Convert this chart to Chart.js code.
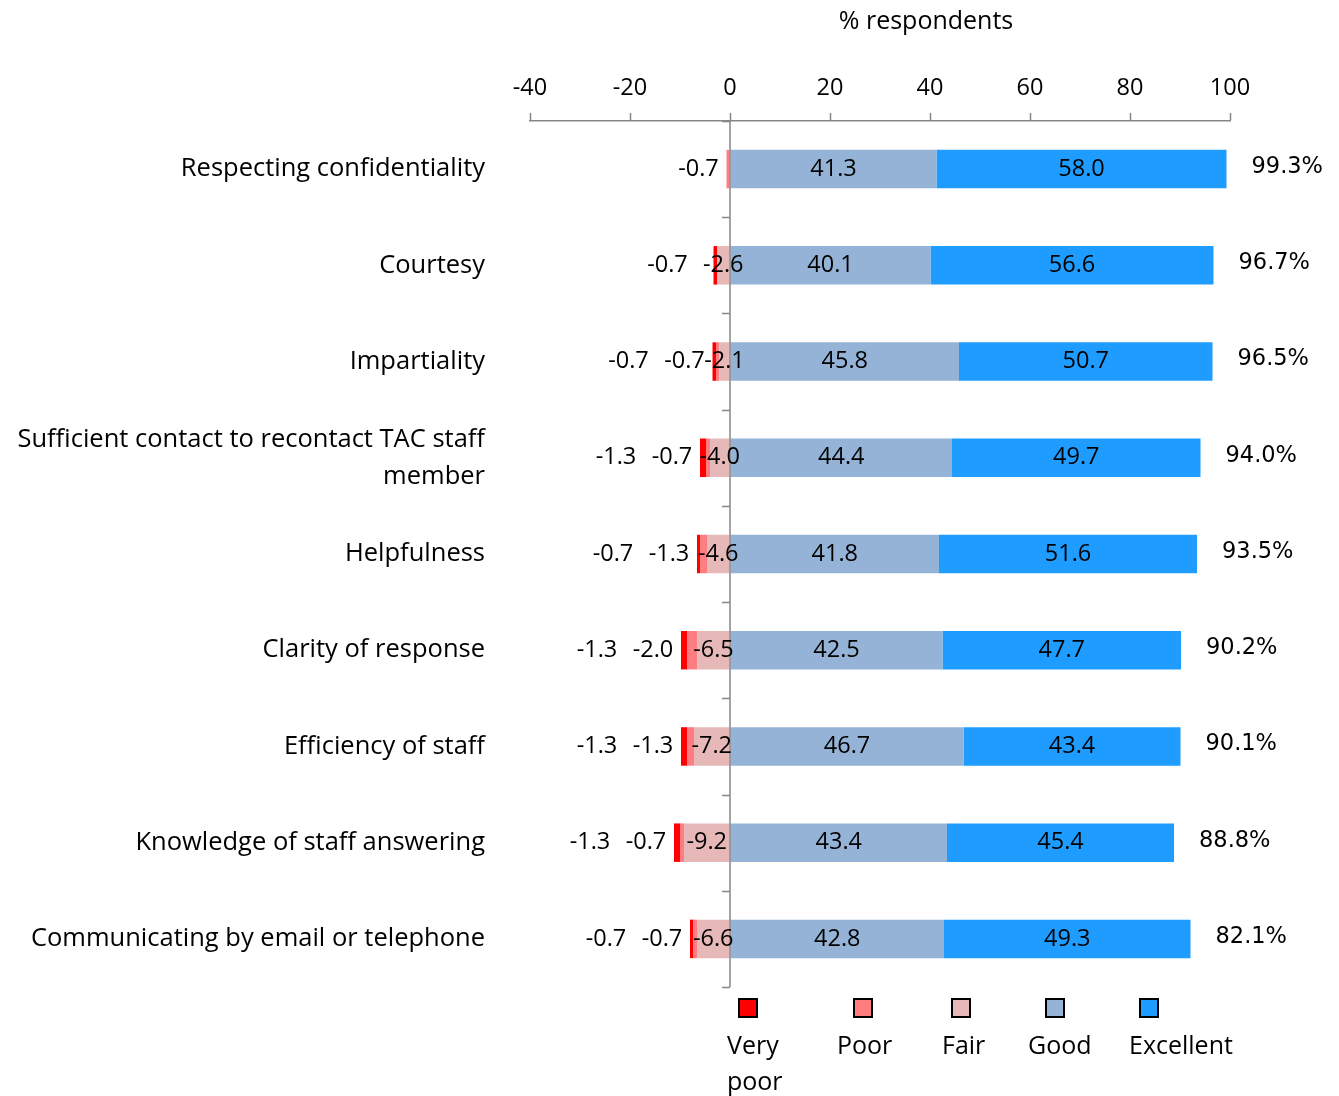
<!DOCTYPE html>
<html>
<head>
<meta charset="utf-8">
<script src="https://cdn.jsdelivr.net/npm/chart.js@4.4.1/dist/chart.umd.min.js"></script>
<style>
  html, body { margin: 0; padding: 0; background: #fff; }
  #wrap { width: 1339px; height: 1096px; }
</style>
</head>
<body>
<div id="wrap"><canvas id="grafico" width="1339" height="1096"></canvas></div>
<script>
// Satisfaction with TAC staff -- diverging stacked bars (negatives to the left)
var CATEGORIAS = [
  "Respecting confidentiality",
  "Courtesy",
  "Impartiality",
  ["Sufficient contact to recontact TAC staff", "member"],
  "Helpfulness",
  "Clarity of response",
  "Efficiency of staff",
  "Knowledge of staff answering",
  "Communicating by email or telephone",
];
var VERY_POOR = [0, -0.7, -0.7, -1.3, -0.7, -1.3, -1.3, -1.3, -0.7];
var POOR = [-0.7, 0, -0.7, -0.7, -1.3, -2.0, -1.3, -0.7, -0.7];
var FAIR = [0, -2.6, -2.1, -4.0, -4.6, -6.5, -7.2, -9.2, -6.6];
var GOOD = [41.3, 40.1, 45.8, 44.4, 41.8, 42.5, 46.7, 43.4, 42.8];
var EXCELLENT = [58.0, 56.6, 50.7, 49.7, 51.6, 47.7, 43.4, 45.4, 49.3];
var TOTAIS = ["99.3%", "96.7%", "96.5%", "94.0%", "93.5%", "90.2%", "90.1%", "88.8%", "82.1%"];
var X_TICKS = [-40, -20, 0, 20, 40, 60, 80, 100];
var LEGENDA = ["Very poor", "Poor", "Fair", "Good", "Excellent"];

var CORES = {
  "Very poor": "#ff0000",
  "Poor": "#ff7c80",
  "Fair": "#e6b9b8",
  "Good": "#95b3d7",
  "Excellent": "#1f9cff",
};
var FONTE = "'Open Sans', Lato, sans-serif";
var EIXO = "#868686";

function fmt(v) {
  return v.toFixed(1);
}

function centro(el) {
  var p = el.getProps(["x", "base", "y"], true);
  return { x: (p.x + p.base) / 2, y: p.y, esq: Math.min(p.x, p.base), dir: Math.max(p.x, p.base) };
}

// rótulos, linha do zero, título e legenda -- tudo desenhado por cima
var extras = {
  id: "extras",
  afterDatasetsDraw: function (chart) {
    var ctx = chart.ctx;
    var area = chart.chartArea;
    var xs = chart.scales.x;
    var x0 = xs.getPixelForValue(0);
    var passo = (area.bottom - area.top) / CATEGORIAS.length;

    ctx.save();
    // linha vertical no zero + marcas entre categorias
    ctx.strokeStyle = EIXO;
    ctx.lineWidth = 1.5;
    ctx.beginPath();
    ctx.moveTo(x0, area.top);
    ctx.lineTo(x0, area.bottom);
    for (var k = 0; k <= CATEGORIAS.length; k++) {
      var yy = Math.round(area.top + k * passo) + 0.5;
      ctx.moveTo(x0 - 8, yy);
      ctx.lineTo(x0, yy);
    }
    ctx.stroke();

    // rótulos das barras
    ctx.fillStyle = "#000";
    ctx.textBaseline = "middle";
    ctx.textAlign = "center";
    ctx.font = "23.5px " + FONTE;
    var mFair = chart.getDatasetMeta(0);
    var mPoor = chart.getDatasetMeta(1);
    var mVery = chart.getDatasetMeta(2);
    var mGood = chart.getDatasetMeta(3);
    var mExc = chart.getDatasetMeta(4);

    CATEGORIAS.forEach(function (_, i) {
      var cg = centro(mGood.data[i]);
      var ce = centro(mExc.data[i]);
      ctx.fillText(fmt(GOOD[i]), cg.x, cg.y);
      ctx.fillText(fmt(EXCELLENT[i]), ce.x, ce.y);

      var esq = Math.min(centro(mVery.data[i]).esq, centro(mPoor.data[i]).esq, centro(mFair.data[i]).esq);
      if (FAIR[i] !== 0) {
        var cf = centro(mFair.data[i]);
        ctx.fillText(fmt(FAIR[i]), cf.x, cf.y);
      }
      if (POOR[i] !== 0) {
        ctx.fillText(fmt(POOR[i]), esq - 28, cg.y);
      }
      if (VERY_POOR[i] !== 0) {
        ctx.fillText(fmt(VERY_POOR[i]), esq - (POOR[i] !== 0 ? 84 : 46), cg.y);
      }

      // total à direita
      ctx.save();
      ctx.textAlign = "left";
      ctx.font = "22.5px 'DejaVu Sans', sans-serif";
      ctx.fillText(TOTAIS[i], ce.dir + 25, cg.y - 2);
      ctx.restore();
    });

    // título do eixo
    ctx.font = "25px " + FONTE;
    ctx.textAlign = "center";
    ctx.fillText("% respondents", 926, 22);

    // legenda: quadrado em cima, texto embaixo
    var posLeg = [739, 854, 952, 1046, 1140];
    LEGENDA.forEach(function (nome, j) {
      var bx = posLeg[j];
      ctx.fillStyle = CORES[nome];
      ctx.fillRect(bx, 999, 18, 18);
      ctx.strokeStyle = "#000";
      ctx.lineWidth = 2;
      ctx.strokeRect(bx, 999, 18, 18);
      ctx.fillStyle = "#000";
      ctx.textAlign = "left";
      var partes = nome === "Very poor" ? ["Very", "poor"] : [nome];
      var tx = bx - (j === 0 ? 12 : j === 1 ? 17 : j === 2 ? 10 : j === 3 ? 18 : 11);
      partes.forEach(function (p, n) {
        ctx.fillText(p, tx, 1047 + n * 36);
      });
    });
    ctx.restore();
  },
};

function serie(nome, dados) {
  return {
    label: nome,
    data: dados,
    backgroundColor: CORES[nome],
    borderWidth: 0,
    barPercentage: 0.4,
    categoryPercentage: 1,
  };
}

new Chart(document.getElementById("grafico"), {
  type: "bar",
  data: {
    labels: CATEGORIAS,
    // ordem: Fair primeiro para ficar colado no zero do lado negativo
    datasets: [
      serie("Fair", FAIR),
      serie("Poor", POOR),
      serie("Very poor", VERY_POOR),
      serie("Good", GOOD),
      serie("Excellent", EXCELLENT),
    ],
  },
  options: {
    indexAxis: "y",
    responsive: false,
    animation: false,
    layout: { padding: { top: 51, right: 109, bottom: 109, left: 0 } },
    scales: {
      x: {
        type: "linear",
        position: "top",
        stacked: true,
        min: -40,
        max: 100,
        afterBuildTicks: function (s) {
          s.ticks = X_TICKS.map(function (v) { return { value: v }; });
        },
        afterFit: function (s) { s.height = 70; },
        ticks: { color: "#000", font: { family: FONTE, size: 23.5 }, padding: 11, maxRotation: 0 },
        grid: { drawOnChartArea: false, drawTicks: true, tickLength: 8, tickColor: EIXO, tickWidth: 1.5 },
        border: { display: true, color: EIXO, width: 1.5 },
      },
      y: {
        stacked: true,
        position: "left",
        afterFit: function (s) { s.width = 530; },
        ticks: { color: "#000", font: { family: FONTE, size: 25.5, lineHeight: 1.45 }, padding: 45 },
        grid: { display: false, drawTicks: false },
        border: { display: false },
      },
    },
    plugins: {
      legend: { display: false },
      tooltip: { enabled: false },
    },
  },
  plugins: [extras],
});
</script>
</body>
</html>
